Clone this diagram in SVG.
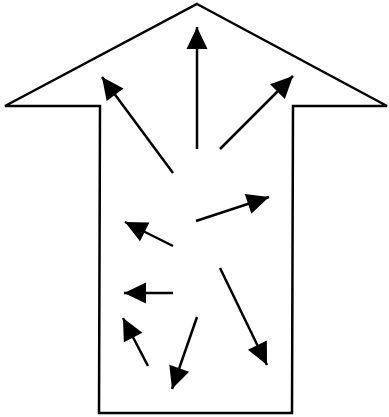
<svg xmlns="http://www.w3.org/2000/svg" width="389" height="417" viewBox="0 0 389 417">
<style>
.outline{fill:#fff;stroke:#000;stroke-width:2.5;stroke-linejoin:miter}
.arr{stroke:#000;stroke-width:2.5;fill:none;marker-end:url(#ah)}
</style>
<defs>
<marker id="ah" markerUnits="userSpaceOnUse" markerWidth="24" markerHeight="23" refX="22" refY="10.5" orient="auto" overflow="visible">
<path d="M0,0 L22,10.5 L0,21 z" fill="#000"/>
</marker>
</defs>
<rect width="389" height="417" fill="#fff"/>
<g id="big-arrow">
<polygon class="outline" points="197,4 387,106 293,106 292,413 99,413 100,106 5,106"/>
</g>
<g id="connectors">
<line class="arr" x1="197" y1="149" x2="197" y2="27"/>
<line class="arr" x1="173" y1="173" x2="102" y2="77"/>
<line class="arr" x1="220" y1="149" x2="293" y2="76"/>
<line class="arr" x1="196" y1="221" x2="269" y2="197"/>
<line class="arr" x1="173" y1="246" x2="125" y2="222"/>
<line class="arr" x1="220" y1="268" x2="267" y2="365"/>
<line class="arr" x1="173" y1="293" x2="124" y2="293"/>
<line class="arr" x1="148" y1="366" x2="123" y2="318"/>
<line class="arr" x1="197" y1="317" x2="172" y2="389"/>
</g>
</svg>
